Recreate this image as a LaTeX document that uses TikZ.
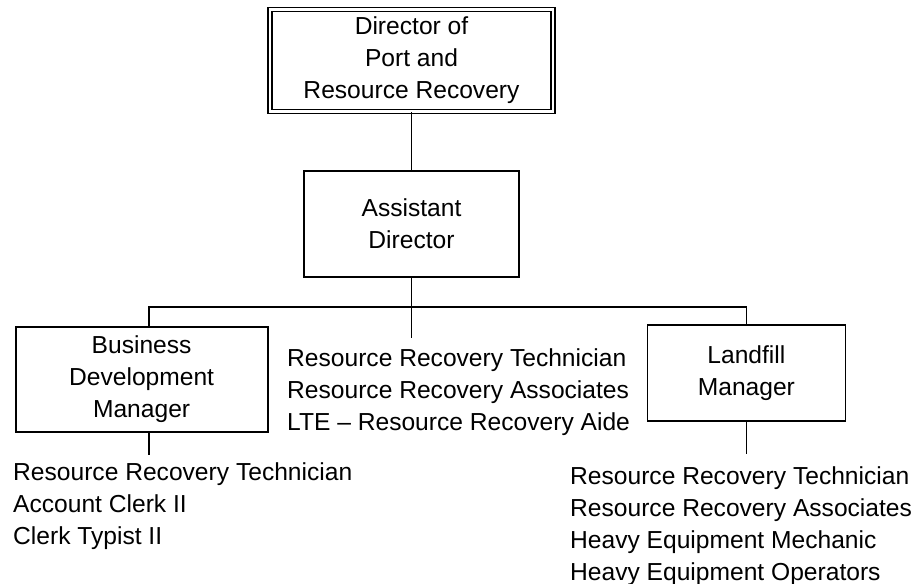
\documentclass[tikz,border=0pt]{standalone}
\usepackage{fontspec}
\setmainfont{Liberation Sans}
\usepackage{tikz}
\usetikzlibrary{positioning}
\newcommand{\orgfont}{\fontsize{24.6}{32}\selectfont}

\begin{document}
\begin{tikzpicture}[
    x=1pt, y=1pt,
    every node/.style={font=\orgfont},
    head/.style={draw, double, double distance=2.6pt, line width=1.4pt,
                 minimum width=283pt, minimum height=102pt,
                 align=center, inner sep=0pt},
    unit/.style={draw, line width=1.8pt, align=center, inner sep=0pt},
    staff/.style={align=left, anchor=north west, inner sep=0pt},
    link/.style={line width=1.8pt},
]
\useasboundingbox (0,0) rectangle (914,-584);

\node[head] (director) at (411.5,-60.5) {Director of\\Port and\\Resource Recovery};
\node[unit, minimum width=215pt, minimum height=106pt,
      below=58pt of director] (assistant) {Assistant\\Director};
\coordinate[below=29pt of assistant] (bus);

\node[unit, minimum width=252pt, minimum height=105pt,
      below left=19pt and 143pt of bus] (business) {Business\\Development\\Manager};
\node[unit, minimum width=198pt, minimum height=96pt,
      below right=17pt and 235pt of bus] (landfill) {Landfill\\Manager};

\node[staff] (techs) at (287,-348.5) {Resource Recovery Technician\\
    Resource Recovery Associates\\LTE -- Resource Recovery Aide};
\node[staff] (bizstaff) at (13,-462.5) {Resource Recovery Technician\\
    Account Clerk II\\Clerk Typist II};
\node[staff] (fillstaff) at (570,-466) {Resource Recovery Technician\\
    Resource Recovery Associates\\Heavy Equipment Mechanic\\
    Heavy Equipment Operators};

\draw[link] (director) -- (assistant);
\draw[link] (assistant) -- (bus);
\draw[link] ([xshift=7pt]business.north) |- (bus) -| (landfill);
\draw[link, shorten >=11pt] (bus) -- (bus |- techs.north);
\draw[link, shorten >=8pt] ([xshift=7pt]business.south) --
    ([xshift=7pt]business.south |- bizstaff.north);
\draw[link, shorten >=12pt] (landfill) -- (landfill.south |- fillstaff.north);
\end{tikzpicture}
\end{document}
